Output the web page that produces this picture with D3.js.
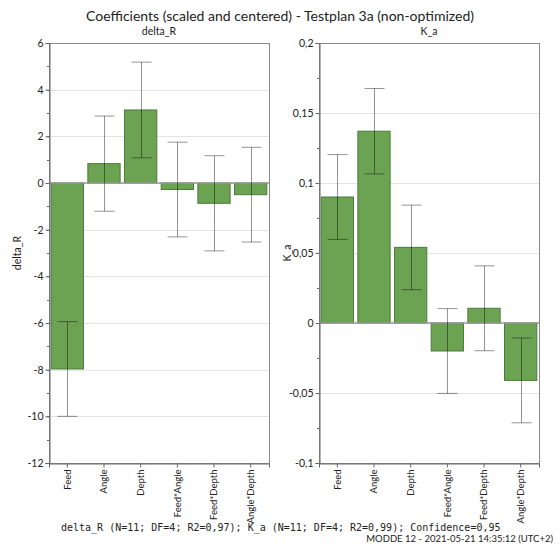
<!DOCTYPE html>
<html>
<head>
<meta charset="utf-8">
<script src="https://cdn.jsdelivr.net/npm/d3@7"></script>
<style>
  html, body { margin: 0; padding: 0; background: #fff; }
  svg { display: block; }
  text { font-family: "Lato", "Open Sans", sans-serif; fill: #222; }
</style>
</head>
<body>
<svg id="chart" width="560" height="547"></svg>
<script>
// Model terms
const terms = ["Feed", "Angle", "Depth", "Feed*Angle", "Feed*Depth", "Angle*Depth"];

// delta_R coefficients and 95% confidence half-widths
const deltaRCoef = [-7.97, 0.83, 3.13, -0.28, -0.87, -0.50];
const deltaRCI   = [2.03, 2.04, 2.05, 2.03, 2.04, 2.03];
const deltaRTicks = [6, 4, 2, 0, -2, -4, -6, -8, -10, -12];

// K_a coefficients and 95% confidence half-widths
const kaCoef = [0.090, 0.137, 0.054, -0.020, 0.0105, -0.041];
const kaCI   = [0.0303, 0.0305, 0.0302, 0.0303, 0.0303, 0.0303];
const kaTicks = [0.2, 0.15, 0.1, 0.05, 0, -0.05, -0.1];

const title = "Coefficients (scaled and centered) - Testplan 3a (non-optimized)";
const footer = "delta_R (N=11; DF=4; R2=0,97); K_a (N=11; DF=4; R2=0,99); Confidence=0,95";
const stamp = "MODDE 12 - 2021-05-21 14:35:12 (UTC+2)";

const svg = d3.select("#chart");
const fmt = v => String(+v.toFixed(3)).replace(".", ",");
const uiFont = "Lato, 'Open Sans', sans-serif";

const barFill = "#6ca353";
const barStroke = "#4a7b39";

const panels = [
  { name: "delta_R", coef: deltaRCoef, ci: deltaRCI, ticks: deltaRTicks,
    domain: [-12, 6], minorStep: 1, x0: 49, x1: 269 },
  { name: "K_a", coef: kaCoef, ci: kaCI, ticks: kaTicks,
    domain: [-0.1, 0.2], minorStep: 0.025, x0: 319, x1: 539 }
];
const plotTop = 43, plotBottom = 463;

svg.append("text")
  .attr("x", 280).attr("y", 21)
  .attr("text-anchor", "middle")
  .style("font-size", "14px")
  .text(title);

panels.forEach(p => {
  const g = svg.append("g");
  const y = d3.scaleLinear().domain(p.domain).range([plotBottom, plotTop]);
  const x = d3.scaleBand().domain(terms).range([p.x0, p.x1]).padding(0);
  const bw = x.bandwidth() * 0.88;
  const cx = d => x(d) + x.bandwidth() / 2;

  // Horizontal grid lines at major ticks
  g.append("g").selectAll("line").data(p.ticks).join("line")
    .attr("x1", p.x0).attr("x2", p.x1)
    .attr("y1", d => Math.round(y(d)) + 0.5).attr("y2", d => Math.round(y(d)) + 0.5)
    .attr("stroke", "#e4e4e4").attr("stroke-width", 1);

  // Plot frame
  g.append("rect")
    .attr("x", p.x0 + 0.5).attr("y", plotTop + 0.5)
    .attr("width", p.x1 - p.x0).attr("height", plotBottom - plotTop)
    .attr("fill", "none").attr("stroke", "#8a8a8a");

  // Bars
  const rows = terms.map((t, i) => ({ term: t, v: p.coef[i], ci: p.ci[i] }));
  g.append("g").selectAll("rect").data(rows).join("rect")
    .attr("x", d => cx(d.term) - bw / 2)
    .attr("width", bw)
    .attr("y", d => y(Math.max(0, d.v)))
    .attr("height", d => Math.abs(y(d.v) - y(0)))
    .attr("fill", barFill)
    .attr("stroke", barStroke).attr("stroke-width", 1);

  // Zero line
  g.append("line")
    .attr("x1", p.x0).attr("x2", p.x1)
    .attr("y1", y(0)).attr("y2", y(0))
    .attr("stroke", "#9a9a9a").attr("stroke-width", 1.5);

  // Confidence intervals
  const eb = g.append("g").attr("stroke", "#000").attr("stroke-opacity", 0.42).attr("stroke-width", 1);
  rows.forEach(d => {
    const c = Math.round(cx(d.term)) + 0.5;
    const hi = y(d.v + d.ci), lo = y(d.v - d.ci);
    eb.append("line").attr("x1", c).attr("x2", c).attr("y1", hi).attr("y2", lo);
    eb.append("line").attr("x1", c - 10).attr("x2", c + 10).attr("y1", hi).attr("y2", hi);
    eb.append("line").attr("x1", c - 10).attr("x2", c + 10).attr("y1", lo).attr("y2", lo);
  });

  // Y axis with major and minor ticks
  const minor = d3.range(p.domain[0], p.domain[1] + p.minorStep / 2, p.minorStep);
  g.append("g").selectAll("line").data(minor).join("line")
    .attr("x1", p.x0 - 2).attr("x2", p.x0)
    .attr("y1", d => Math.round(y(d)) + 0.5).attr("y2", d => Math.round(y(d)) + 0.5)
    .attr("stroke", "#666");
  const yAxis = d3.axisLeft(y).tickValues(p.ticks).tickFormat(fmt).tickSize(4).tickPadding(2);
  const ya = g.append("g").attr("transform", `translate(${p.x0 + 0.5},0)`).call(yAxis);
  ya.select(".domain").attr("stroke", "#666");
  ya.selectAll(".tick line").attr("stroke", "#666");
  ya.selectAll(".tick text").style("font-size", "10.5px").attr("fill", "#222")
    .style("font-family", uiFont);

  // X axis with rotated term labels
  const xAxis = d3.axisBottom(x).tickSize(4).tickPadding(3);
  const xa = g.append("g").attr("transform", `translate(0,${plotBottom + 0.5})`).call(xAxis);
  xa.select(".domain").attr("stroke", "#666");
  xa.selectAll(".tick line").attr("stroke", "#666");
  xa.selectAll(".tick text")
    .style("font-size", "9.5px").attr("fill", "#222")
    .style("font-family", uiFont)
    .attr("transform", "rotate(-90)")
    .attr("text-anchor", "end")
    .attr("x", -6).attr("y", 0).attr("dy", "0.35em");

  // Panel title and y-axis title
  g.append("text")
    .attr("x", (p.x0 + p.x1) / 2).attr("y", 35)
    .attr("text-anchor", "middle").style("font-size", "10.5px")
    .text(p.name);
  g.append("text")
    .attr("transform", `translate(${p.x0 - 28},${(plotTop + plotBottom) / 2}) rotate(-90)`)
    .attr("text-anchor", "middle").style("font-size", "10.5px")
    .text(p.name);
});

svg.append("text")
  .attr("x", 61).attr("y", 531)
  .style("font-family", "'DejaVu Sans Mono', 'Liberation Mono', monospace")
  .style("font-size", "10px").attr("fill", "#222")
  .text(footer);

// Software stamp in the lower-right corner
svg.append("text")
  .attr("x", 553).attr("y", 542)
  .attr("text-anchor", "end")
  .style("font-size", "9.5px").attr("fill", "#aaa")
  .text(stamp);
</script>
</body>
</html>
